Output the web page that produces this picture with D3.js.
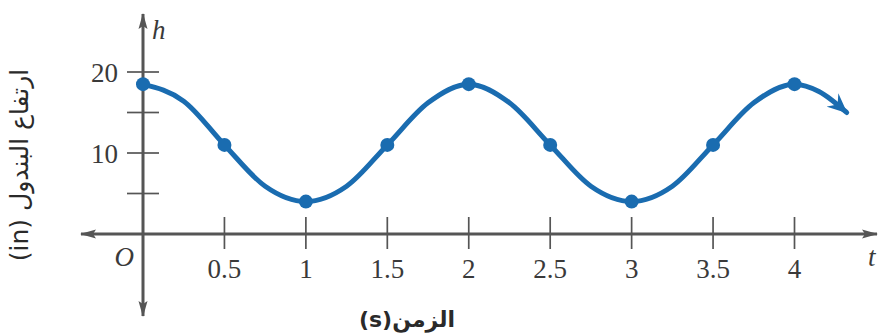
<!DOCTYPE html>
<html>
<head>
<meta charset="utf-8">
<script src="https://cdn.jsdelivr.net/npm/d3@7"></script>
<style>
  html, body { margin: 0; padding: 0; background: #ffffff; }
  svg { display: block; }
</style>
</head>
<body>
<svg id="chart" width="883" height="336"></svg>
<script>
// ---- data ----
const dotT = [0, 0.5, 1, 1.5, 2, 2.5, 3, 3.5, 4];
const dotH = [18.5, 11, 4, 11, 18.5, 11, 4, 11, 18.5];
const curveT = [0, 0.25, 0.5, 0.75, 1, 1.25, 1.5, 1.75, 2, 2.25, 2.5, 2.75, 3, 3.25, 3.5, 3.75, 4, 4.15, 4.32];
const curveH = [18.5, 16.4, 11, 5.9, 4, 5.9, 11, 16.2, 18.5, 16.2, 11, 5.9, 4, 5.9, 11, 16.2, 18.5, 17.6, 15];
const xTicks = [0.5, 1, 1.5, 2, 2.5, 3, 3.5, 4];
const xTickLabels = ["0.5", "1", "1.5", "2", "2.5", "3", "3.5", "4"];
const yTicks = [5, 10, 15, 20];
const yTickLabels = ["", "10", "", "20"];
const xTitle = "الزمن(s)";
const yTitle = "ارتفاع البندول (in)";

// ---- layout ----
const svg = d3.select("#chart");
const x = d3.scaleLinear().domain([0, 4]).range([143, 794.5]);
const y = d3.scaleLinear().domain([0, 20]).range([234, 72]);
const axisColor = "#555";
const textColor = "#3a3a3a";
const blue = "#1a6cb0";
const serif = "'Liberation Serif', 'DejaVu Serif', serif";

const defs = svg.append("defs");
defs.append("marker")
  .attr("id", "axArrow").attr("viewBox", "0 0 16 11")
  .attr("refX", 15).attr("refY", 5.5)
  .attr("markerWidth", 16).attr("markerHeight", 11)
  .attr("markerUnits", "userSpaceOnUse").attr("orient", "auto-start-reverse")
  .append("path").attr("d", "M0,1 L16,5.5 L0,10 L3,5.5 Z").attr("fill", axisColor);
defs.append("marker")
  .attr("id", "curveArrow").attr("viewBox", "0 0 22 18")
  .attr("refX", 19).attr("refY", 9)
  .attr("markerWidth", 22).attr("markerHeight", 18)
  .attr("markerUnits", "userSpaceOnUse").attr("orient", "auto")
  .append("path").attr("d", "M0,0 L20,9 L0,18 L7,9 Z").attr("fill", blue);

// axes lines
svg.append("line")
  .attr("x1", 81).attr("x2", 877).attr("y1", y(0)).attr("y2", y(0))
  .attr("stroke", axisColor).attr("stroke-width", 3)
  .attr("marker-start", "url(#axArrow)").attr("marker-end", "url(#axArrow)");
svg.append("line")
  .attr("x1", x(0)).attr("x2", x(0)).attr("y1", 316).attr("y2", 14)
  .attr("stroke", axisColor).attr("stroke-width", 3)
  .attr("marker-start", "url(#axArrow)").attr("marker-end", "url(#axArrow)");

// x ticks
const xt = svg.append("g");
xt.selectAll("line").data(xTicks).join("line")
  .attr("x1", d => x(d)).attr("x2", d => x(d))
  .attr("y1", y(0) - 17).attr("y2", y(0) + 15)
  .attr("stroke", axisColor).attr("stroke-width", 1.7);
xt.selectAll("text").data(xTicks).join("text")
  .attr("x", d => x(d)).attr("y", 278)
  .attr("text-anchor", "middle")
  .attr("font-family", serif).attr("font-size", 27)
  .attr("fill", textColor)
  .text((d, i) => xTickLabels[i]);

// y ticks
const yt = svg.append("g");
yt.selectAll("line").data(yTicks).join("line")
  .attr("x1", x(0) - 16).attr("x2", x(0) + 16)
  .attr("y1", d => y(d)).attr("y2", d => y(d))
  .attr("stroke", axisColor).attr("stroke-width", 1.7);
yt.selectAll("text").data(yTicks).join("text")
  .attr("x", 118).attr("y", d => y(d) + 10)
  .attr("text-anchor", "end")
  .attr("font-family", serif).attr("font-size", 27)
  .attr("fill", textColor)
  .text((d, i) => yTickLabels[i]);

// axis letters
svg.append("text").attr("x", 134).attr("y", 266).attr("text-anchor", "end")
  .attr("font-family", serif).attr("font-style", "italic").attr("font-size", 27)
  .attr("fill", textColor).text("O");
svg.append("text").attr("x", 152).attr("y", 39)
  .attr("font-family", serif).attr("font-style", "italic").attr("font-size", 27)
  .attr("fill", textColor).text("h");
svg.append("text").attr("x", 868).attr("y", 266)
  .attr("font-family", serif).attr("font-style", "italic").attr("font-size", 27)
  .attr("fill", textColor).text("t");

// titles
svg.append("text").attr("x", 407).attr("y", 327).attr("text-anchor", "middle")
  .attr("font-family", "'DejaVu Sans', sans-serif").attr("font-size", 22)
  .attr("font-weight", "bold").attr("fill", "#2a2a2a")
  .attr("direction", "rtl").attr("unicode-bidi", "plaintext")
  .text(xTitle);
svg.append("text")
  .attr("transform", "translate(28,165) rotate(-90)")
  .attr("text-anchor", "middle")
  .attr("font-family", "'DejaVu Sans', sans-serif").attr("font-size", 25)
  .attr("fill", "#2a2a2a")
  .attr("direction", "rtl").attr("unicode-bidi", "plaintext")
  .text(yTitle);

// curve
const pts = curveT.map((t, i) => [t, curveH[i]]);
const line = d3.line().x(d => x(d[0])).y(d => y(d[1])).curve(d3.curveMonotoneX);
svg.append("path").datum(pts)
  .attr("d", line)
  .attr("fill", "none").attr("stroke", blue).attr("stroke-width", 5)
  .attr("stroke-linecap", "round")
  .attr("marker-end", "url(#curveArrow)");

// dots
svg.append("g").selectAll("circle").data(dotT).join("circle")
  .attr("cx", d => x(d)).attr("cy", (d, i) => y(dotH[i]))
  .attr("r", 7).attr("fill", blue);
</script>
</body>
</html>
